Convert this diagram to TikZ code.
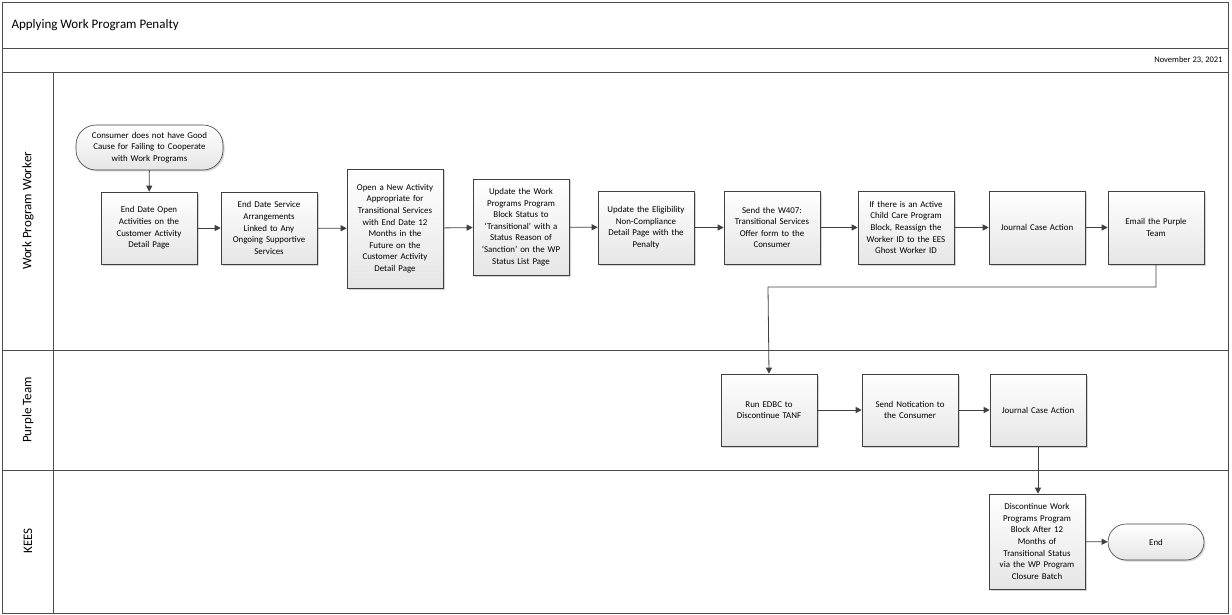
\documentclass[tikz,border=0pt]{standalone}
\usepackage{fontspec}
\setmainfont{Carlito}
\usetikzlibrary{shadows,arrows.meta}
\begin{document}
\begin{tikzpicture}[x=1pt,y=-1pt,
  box/.style={draw=black!75,line width=0.6pt,top color=white,bottom color=black!10,
    drop shadow={opacity=0.35,shadow xshift=1.5pt,shadow yshift=-1.5pt},
    align=center,font=\fontsize{8.9}{11.6}\selectfont,inner sep=0.5pt,text width=94pt},
  arr/.style={draw=black!75,line width=0.8pt,-{Triangle[length=6pt,width=6pt]}},
  lane/.style={rotate=90,font=\fontsize{13}{15}\selectfont}]
\useasboundingbox (0,0) rectangle (1232,615);
\draw[black!70,line width=0.8pt] (2,2) rectangle (1228,613);
\draw[black!70,line width=0.8pt] (2,48) -- (1228,48) (2,72) -- (1228,72)
  (53,72) -- (53,613) (2,350) -- (1228,350) (2,470) -- (1228,470);
\node[anchor=west,font=\fontsize{13}{15}\selectfont] (title) at (8,25) {Applying Work Program Penalty};
\node[anchor=east,font=\fontsize{8.5}{10}\selectfont] (date) at (1226,60) {November 23, 2021};
\node[lane] (l1) at (28,211) {Work Program Worker};
\node[lane] (l2) at (28,410) {Purple Team};
\node[lane] (l3) at (28,541) {KEES};
\def\bx#1#2#3#4#5#6{\node[box,minimum width={#4-#2},minimum height={#5-#3},text width={#4-#2-2}] (#1) at ({(#2+#4)/2},{(#3+#5)/2}) {#6};}
\node[box,rounded corners=20pt,minimum width=145pt,minimum height=45pt,text width=146pt] (s) at (149.5,147.5) {Consumer does not have Good\\Cause for Failing to Cooperate\\with Work Programs};
\bx{b1}{101}{192}{197}{264}{End Date Open\\Activities on the\\Customer Activity\\Detail Page}
\bx{b2}{221}{192}{317}{264}{End Date Service\\Arrangements\\Linked to Any\\Ongoing Supportive\\Services}
\bx{b3}{347}{169}{443}{288}{Open a New Activity\\Appropriate for\\Transitional Services\\with End Date 12\\Months in the\\Future on the\\Customer Activity\\Detail Page}
\bx{b4}{473}{179}{569}{275}{Update the Work\\Programs Program\\Block Status to\\`Transitional' with a\\Status Reason of\\`Sanction' on the WP\\Status List Page}
\bx{b5}{598}{191}{694}{264}{Update the Eligibility\\Non-Compliance\\Detail Page with the\\Penalty}
\bx{b6}{724}{191}{820}{264}{Send the W407:\\Transitional Services\\Offer form to the\\Consumer}
\bx{b7}{858}{191}{954}{264}{If there is an Active\\Child Care Program\\Block, Reassign the\\Worker ID to the EES\\Ghost Worker ID}
\bx{b8}{989}{191}{1085}{264}{Journal Case Action}
\bx{b9}{1108}{191}{1204}{264}{Email the Purple\\Team}
\bx{p1}{721}{374}{817}{446}{Run EDBC to\\Discontinue TANF}
\bx{p2}{862}{374}{958}{446}{Send Notication to\\the Consumer}
\bx{p3}{990}{374}{1086}{446}{Journal Case Action}
\bx{k1}{989}{494}{1085}{589}{Discontinue Work\\Programs Program\\Block After 12\\Months of\\Transitional Status\\via the WP Program\\Closure Batch}
\node[box,rounded corners=18pt,minimum width=96pt,minimum height=36pt] (e) at (1156,542) {End};
\draw[arr] (s) -- (b1);
\draw[arr] (b1) -- (b2);
\draw[arr] (b2) -- (b3);
\draw[arr] (b3) -- (b4);
\draw[arr] (b4) -- (b5);
\draw[arr] (b5) -- (b6);
\draw[arr] (b6) -- (b7);
\draw[arr] (b7) -- (b8);
\draw[arr] (b8) -- (b9);
\coordinate (c1) at (1156,287);
\coordinate (c2) at (768,287);
\draw[arr] (b9.south) -- (c1) -- (c2) -- (p1.north);
\draw[arr] (p1) -- (p2);
\draw[arr] (p2.east |- p3) -- (p3);
\draw[arr] (p3.south) -- (p3.south |- k1.north);
\draw[arr] (k1) -- (e);
\end{tikzpicture}
\end{document}
